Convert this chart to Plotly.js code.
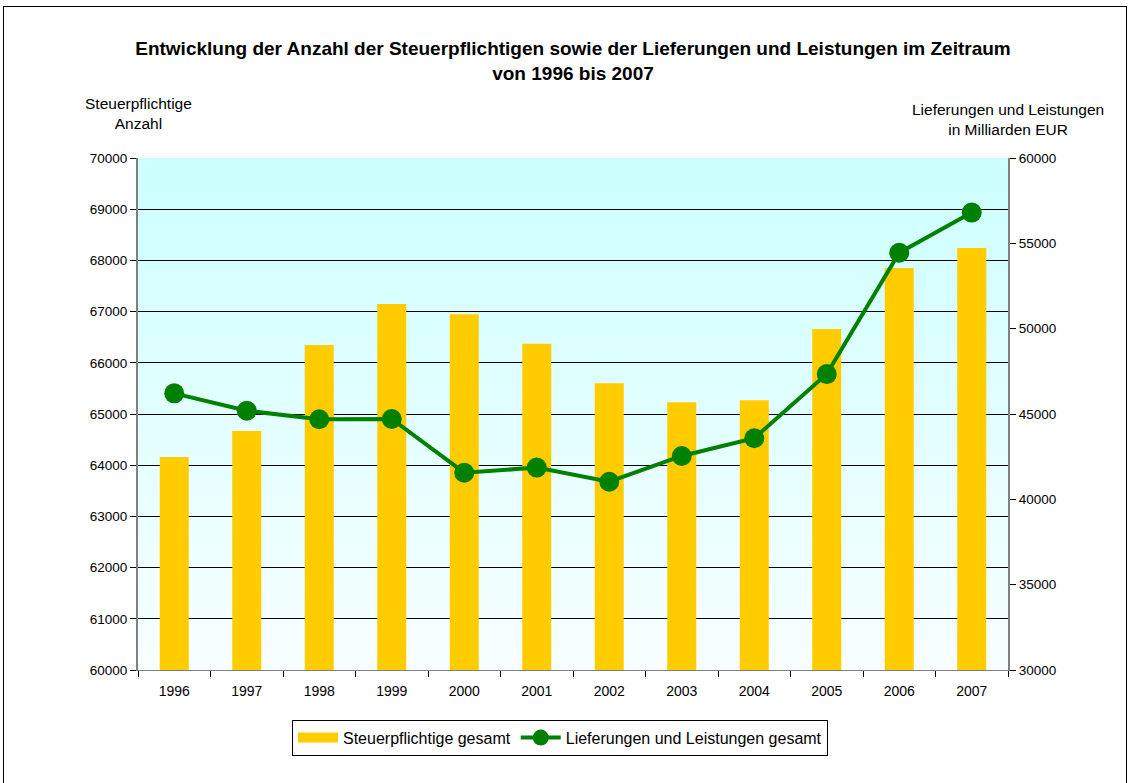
<!DOCTYPE html>
<html>
<head>
<meta charset="utf-8">
<script src="https://cdn.plot.ly/plotly-3.0.1.min.js"></script>
<style>
html,body{margin:0;padding:0;background:#fff;}
#frame{position:absolute;left:3px;top:6px;width:1124px;height:800px;border:1px solid #000;box-sizing:border-box;}
#chart{position:absolute;left:0;top:0;width:1131px;height:783px;}
</style>
</head>
<body>
<div id="frame"></div>
<div id="chart"></div>
<script>
const years = ['1996','1997','1998','1999','2000','2001','2002','2003','2004','2005','2006','2007'];
const steuerpflichtige = [64160, 64670, 66350, 67150, 66950, 66370, 65600, 65230, 65270, 66660, 67850, 68240];
const lieferungen = [46210, 45190, 44690, 44710, 41560, 41860, 41030, 42540, 43580, 47340, 54450, 56800];
const leftTicks = [60000,61000,62000,63000,64000,65000,66000,67000,68000,69000,70000];
const rightTicks = [30000,35000,40000,45000,50000,55000,60000];

const font = 'Liberation Sans, Arial, sans-serif';
const grad = 'data:image/svg+xml;utf8,' + encodeURIComponent(
  '<svg xmlns="http://www.w3.org/2000/svg" width="100" height="100" preserveAspectRatio="none">' +
  '<defs><linearGradient id="g" x1="0" y1="0" x2="0" y2="1">' +
  '<stop offset="0" stop-color="#ccffff"/><stop offset="1" stop-color="#f8ffff"/></linearGradient></defs>' +
  '<rect width="100" height="100" fill="url(#g)"/></svg>');

const data = [
  {
    type: 'bar', x: years, y: steuerpflichtige, name: 'Steuerpflichtige gesamt',
    marker: {color: '#ffcc00'}, width: 0.4, yaxis: 'y', showlegend: false
  },
  {
    // legend entry for the bars, drawn as a wide yellow block like the original
    type: 'scatter', mode: 'lines', x: [years[0]], y: [null], name: 'Steuerpflichtige gesamt',
    line: {color: '#ffcc00', width: 11}, yaxis: 'y', hoverinfo: 'skip'
  },
  {
    type: 'scatter', mode: 'lines+markers', x: years, y: lieferungen,
    name: 'Lieferungen und Leistungen gesamt', yaxis: 'y2',
    line: {color: '#008000', width: 4}, marker: {color: '#008000', size: 20}
  }
];

const layout = {
  width: 1131, height: 783,
  margin: {l: 138, r: 123, t: 158, b: 113},
  paper_bgcolor: 'rgba(0,0,0,0)', plot_bgcolor: 'rgba(0,0,0,0)',
  font: {family: font, size: 13, color: '#000'},
  title: {
    text: '<b>Entwicklung der Anzahl der Steuerpflichtigen sowie der Lieferungen und Leistungen im Zeitraum<br>von 1996 bis 2007</b>',
    font: {family: font, size: 19, color: '#000'},
    x: 0.5, xref: 'paper', y: 0.93, yanchor: 'top'
  },
  showlegend: true,
  legend: {
    orientation: 'h', x: 0.177, xanchor: 'left', y: -0.097, yanchor: 'top',
    bordercolor: '#000', borderwidth: 1, bgcolor: '#fff',
    font: {family: font, size: 16}, itemwidth: 40, traceorder: 'normal'
  },
  xaxis: {
    type: 'category', range: [-0.5, 11.5], showgrid: false, showline: true, linecolor: '#808080', linewidth: 1,
    ticks: 'outside', tickson: 'boundaries', ticklen: 6, tickcolor: '#000',
    tickfont: {family: font, size: 14}, ticklabelstandoff: 8
  },
  yaxis: {
    range: [60000, 70000], tickvals: leftTicks, ticktext: leftTicks.map(String),
    showgrid: true, gridcolor: '#000', gridwidth: 1, zeroline: false,
    showline: true, linecolor: '#808080', linewidth: 2,
    ticks: 'outside', ticklen: 6, tickcolor: '#000', tickfont: {family: font, size: 13.5}
  },
  yaxis2: {
    range: [30000, 60000], tickvals: rightTicks, ticktext: rightTicks.map(String),
    overlaying: 'y', side: 'right', showgrid: false, zeroline: false,
    showline: true, linecolor: '#808080', linewidth: 2,
    ticks: 'outside', ticklen: 6, tickcolor: '#000', tickfont: {family: font, size: 13.5}
  },
  images: [{
    source: grad, xref: 'paper', yref: 'paper', x: 0, y: 1, sizex: 1, sizey: 1,
    sizing: 'stretch', layer: 'below', xanchor: 'left', yanchor: 'top'
  }],
  annotations: [
    {text: 'Steuerpflichtige<br>Anzahl', xref: 'paper', yref: 'paper', x: 0.0, y: 1.046,
     xanchor: 'center', yanchor: 'bottom', showarrow: false, font: {family: font, size: 15.5}},
    {text: 'Lieferungen und Leistungen<br>in Milliarden EUR', xref: 'paper', yref: 'paper', x: 1.0, y: 1.036,
     xanchor: 'center', yanchor: 'bottom', showarrow: false, font: {family: font, size: 15.5}}
  ]
};

Plotly.newPlot('chart', data, layout, {displayModeBar: false, staticPlot: true});
</script>
</body>
</html>
